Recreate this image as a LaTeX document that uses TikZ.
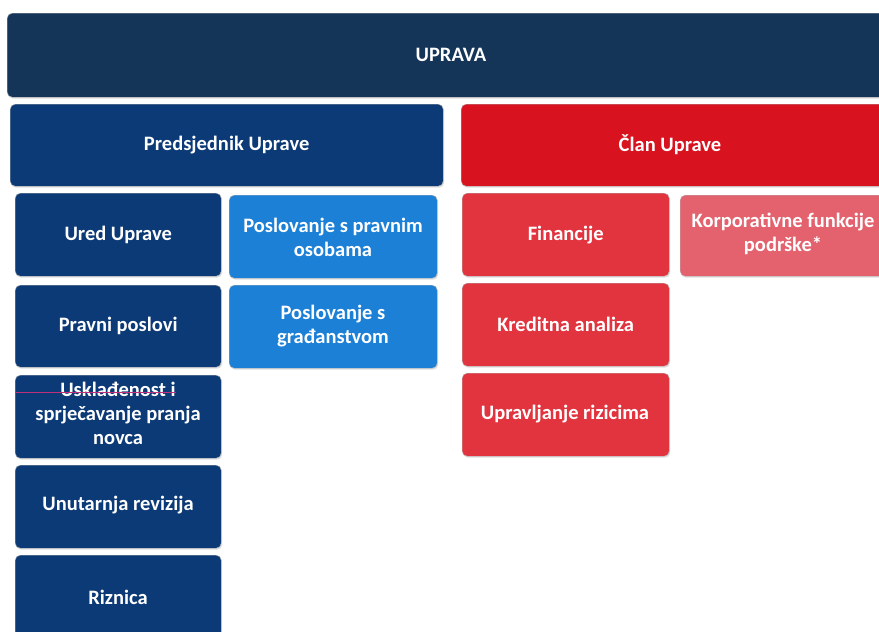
\documentclass[tikz,border=0pt]{standalone}
\usepackage{fontspec}
\setmainfont{Carlito}
\usetikzlibrary{shadows}
\definecolor{navytop}{HTML}{153558}
\definecolor{navy}{HTML}{0C3A76}
\definecolor{lblue}{HTML}{1C80D6}
\definecolor{redtop}{HTML}{D8121F}
\definecolor{redbox}{HTML}{E2343F}
\definecolor{pinkbox}{HTML}{E3626E}
\definecolor{artline}{HTML}{C0307A}
\tikzset{
  lbl/.style={text=white, font=\bfseries\fontsize{20.5}{24}\selectfont, align=center, inner sep=0pt},
  box/.style={rounded corners=5pt, draw=white!70!black, line width=0.4pt,
    lbl, inner sep=2pt, drop shadow={opacity=0.25, shadow xshift=1pt, shadow yshift=-1.5pt}},
  topbox/.style={box, fill=navytop},
  navybox/.style={box, fill=navy},
  bluebox/.style={box, fill=lblue},
  redtopbox/.style={box, fill=redtop},
  redbx/.style={box, fill=redbox},
  pinkbx/.style={box, fill=pinkbox},
}
\begin{document}
\begin{tikzpicture}[x=1pt,y=-1pt]
\useasboundingbox (0,0) rectangle (879,632);
\clip (0,0) rectangle (879,632);
% top
\node[topbox, minimum width=884pt, minimum height=84pt, anchor=north west] (uprava) at (7,13) {};
\node[lbl] (upravatxt) at (451,55) {UPRAVA};
% second level
\node[navybox, minimum width=433pt, minimum height=82pt, anchor=north west] (pred) at (10,104) {Predsjednik Uprave};
\node[redtopbox, minimum width=430pt, minimum height=82pt, anchor=north west] (clan) at (461,104) {};
\node[lbl] (clantxt) at (670,145) {Član Uprave};
% left column
\node[navybox, minimum width=206pt, minimum height=83pt, anchor=north west] (ured) at (15,193) {Ured Uprave};
\node[navybox, minimum width=206pt, minimum height=82pt, anchor=north west] (pravni) at (15,285) {Pravni poslovi};
\node[navybox, minimum width=206pt, minimum height=83pt, anchor=north west] (uskl) at (15,375) {};
\node[lbl] (uskltxt) at (118,413) {Usklađenost i\\sprječavanje pranja\\novca};
\node[navybox, minimum width=206pt, minimum height=83pt, anchor=north west] (revizija) at (15,465) {};
\node[lbl] (revtxt) at (118,505) {Unutarnja revizija};
\node[navybox, minimum width=206pt, minimum height=83pt, anchor=north west] (riznica) at (15,555) {};
\node[lbl] (riznicatxt) at (118,597) {Riznica};
% blue column
\node[bluebox, minimum width=208pt, minimum height=83pt, anchor=north west] (pravosobe) at (229,195) {};
\node[lbl] (pravosobetxt) at (333,237) {Poslovanje s pravnim\\osobama};
\node[bluebox, minimum width=208pt, minimum height=83pt, anchor=north west] (gradjani) at (229,285) {};
\node[lbl] (gradjanitxt) at (333,326) {Poslovanje s\\građanstvom};
% red column
\node[redbx, minimum width=207pt, minimum height=83pt, anchor=north west] (fin) at (462,193) {Financije};
\node[redbx, minimum width=207pt, minimum height=83pt, anchor=north west] (kred) at (462,283) {Kreditna analiza};
\node[redbx, minimum width=207pt, minimum height=83pt, anchor=north west] (rizik) at (462,373) {};
\node[lbl] (riziktxt) at (565,414) {Upravljanje rizicima};
% pink box (cut at right)
\node[pinkbx, minimum width=210pt, minimum height=81pt, anchor=north west] (korp) at (680,195) {};
\node[lbl] (korptxt) at (783,234) {Korporativne funkcije\\podrške*};
% thin artefact line across Uskladenost box
\coordinate (la) at (15,392);
\coordinate (lb) at (176,392);
\draw[artline, line width=0.5pt] (la) -- (lb);
\end{tikzpicture}
\end{document}
